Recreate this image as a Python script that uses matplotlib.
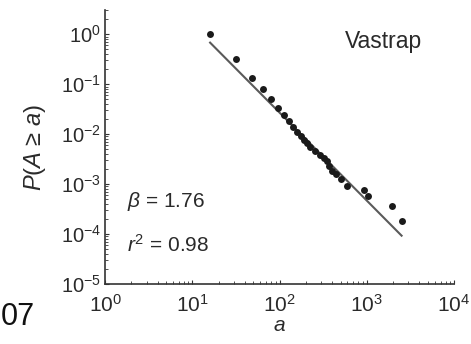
import numpy as np
import matplotlib
matplotlib.use("Agg")
import matplotlib.pyplot as plt
from matplotlib.ticker import LogLocator, NullFormatter

plt.rcParams['font.family'] = ['Liberation Sans', 'DejaVu Sans']
plt.rcParams['mathtext.fontset'] = 'custom'
plt.rcParams['mathtext.rm'] = 'Liberation Sans'
plt.rcParams['mathtext.it'] = 'Liberation Sans:italic'

# cumulative distribution P(A >= a)
area = [16, 32, 48, 64, 80, 96, 112, 128, 144, 160, 176, 192, 208, 224,
        256, 288, 320, 352, 368, 400, 448, 512, 592, 928, 1024, 1968, 2512]
prob = [1.0, 0.316, 0.136, 0.079, 0.050, 0.033, 0.0245, 0.0187, 0.0142,
        0.0113, 0.0093, 0.0077, 0.0066, 0.0056, 0.0046, 0.0039, 0.0034,
        0.0029, 0.0023, 0.00185, 0.00157, 0.00125, 0.00092, 0.00075,
        0.00057, 0.00036, 0.00018]

# fitted power law
beta = 1.76
fit_range = [16, 2505]
fit_p0 = 0.68

fig = plt.figure(figsize=(4.71, 3.44), dpi=100)
ax = fig.add_axes([0.223, 0.174, 0.741, 0.797])

fit_x = np.array(fit_range, dtype=float)
fit_y = fit_p0 * (fit_x / fit_x[0]) ** (-beta)
ax.plot(fit_x, fit_y, color='#5a5a5a', lw=1.5, zorder=2)
ax.plot(area, prob, 'o', color='#1a1a1a', ms=5, mec='none', zorder=3)

ax.set_xscale('log')
ax.set_yscale('log')
ax.set_xlim(1, 1e4)
ax.set_ylim(1e-5, 3.06)

ax.spines['top'].set_visible(False)
ax.spines['right'].set_visible(False)
for s in ('left', 'bottom'):
    ax.spines[s].set_color('#333333')
    ax.spines[s].set_linewidth(1.2)

ax.xaxis.set_major_locator(LogLocator(base=10, numticks=10))
ax.yaxis.set_major_locator(LogLocator(base=10, numticks=10))
ax.xaxis.set_minor_locator(LogLocator(base=10, subs=np.arange(2, 10), numticks=20))
ax.yaxis.set_minor_locator(LogLocator(base=10, subs=np.arange(2, 10), numticks=20))
ax.xaxis.set_minor_formatter(NullFormatter())
ax.yaxis.set_minor_formatter(NullFormatter())
ax.tick_params(which='major', direction='in', length=3, width=0.8,
               color='#333333', labelcolor='#2a2a2a')
ax.tick_params(which='minor', direction='in', length=2, width=0.6, color='#333333')
ax.tick_params(axis='x', which='major', pad=7, labelsize=15)
ax.tick_params(axis='y', which='major', pad=3, labelsize=14.5)

ax.set_xlabel('$a$', fontsize=15, color='#2a2a2a', labelpad=0)
ax.set_ylabel(r'$P$($A$ ≥ $a$)', fontsize=17, color='#2a2a2a', labelpad=9)

ax.text(0.688, 0.860, 'Vastrap', transform=ax.transAxes, fontsize=16.5,
        color='#2a2a2a', va='baseline', ha='left')
ax.text(0.062, 0.280, r'$\beta$ = 1.76', transform=ax.transAxes, fontsize=15,
        color='#2a2a2a', va='baseline', ha='left')
ax.text(0.062, 0.118, r'$r^2$ = 0.98', transform=ax.transAxes, fontsize=15,
        color='#2a2a2a', va='baseline', ha='left')

# fragment of the neighbouring panel
fig.text(0.002, 0.055, '07', fontsize=22, color='#111111', ha='left', va='baseline')

fig.savefig('out.png', dpi=100)
